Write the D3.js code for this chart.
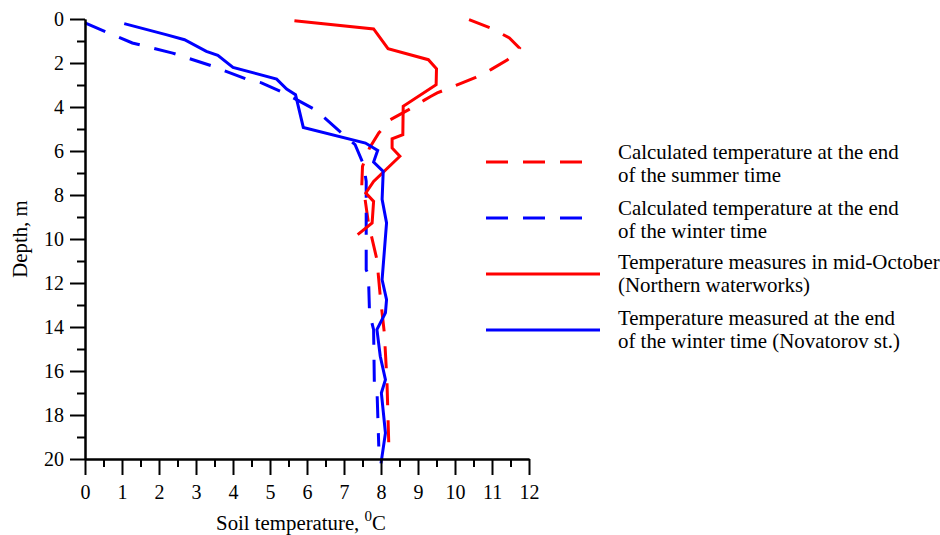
<!DOCTYPE html>
<html>
<head>
<meta charset="utf-8">
<script src="https://cdn.jsdelivr.net/npm/d3@7"></script>
<style>
  html, body { margin: 0; padding: 0; background: #fff; }
  svg { display: block; }
  text { font-family: "Liberation Serif", "Times New Roman", serif; fill: #000; }
</style>
</head>
<body>
<svg id="chart" width="940" height="535"></svg>
<script>
// ---- Data (temperature °C, depth m) ----
const calcSummerTemp  = [10.38, 10.97, 11.47, 11.74, 11.42, 10.97, 10.56, 10.06, 9.52, 9.34, 9.16, 8.75, 8.25, 7.94, 7.69, 7.5, 7.48, 7.57, 7.66, 7.89, 7.98, 8.09, 8.16, 8.21];
const calcSummerDepth = [0.03, 0.41, 0.86, 1.32, 1.85, 2.3, 2.65, 2.99, 3.36, 3.52, 3.7, 4.12, 4.58, 5.18, 5.86, 6.7, 7.6, 8.2, 9.27, 10.94, 12.6, 14.27, 16.4, 19.3];

const calcWinterTemp  = [0, 1.28, 2.37, 3.46, 4.36, 4.77, 5.36, 6.22, 6.99, 7.3, 7.53, 7.6, 7.6, 7.66, 7.69, 7.8, 7.82, 7.89, 7.94];
const calcWinterDepth = [0.18, 1.09, 1.55, 2.15, 2.73, 2.9, 3.34, 4.12, 5.26, 5.71, 6.62, 7.38, 11.4, 11.62, 13.36, 14.12, 16.55, 16.77, 19.43];

const measOctTemp  = [5.66, 7.8, 8.19, 9.28, 9.5, 9.49, 8.6, 8.59, 8.3, 8.3, 8.51, 7.8, 7.59, 7.8, 7.76, 7.37];
const measOctDepth = [0.08, 0.45, 1.35, 1.85, 2.26, 2.99, 3.97, 5.26, 5.45, 5.86, 6.24, 7.38, 7.91, 8.29, 9.27, 9.8];

const measWinterTemp  = [1.06, 2.19, 2.69, 3.28, 3.59, 4.0, 5.18, 5.45, 5.69, 5.9, 7.58, 7.91, 7.8, 8.06, 8.03, 8.15, 8.03, 8.15, 8.12, 7.89, 7.98, 8.12, 8.01, 8.12, 8.0];
const measWinterDepth = [0.21, 0.71, 0.94, 1.47, 1.65, 2.2, 2.73, 3.18, 3.44, 4.93, 5.64, 5.97, 6.5, 6.93, 8.2, 9.27, 11.85, 12.76, 13.36, 14.12, 15.33, 16.39, 17.0, 18.82, 20.2];

const xMajorTicks = [0,1,2,3,4,5,6,7,8,9,10,11,12];
const xMinorTicks = [0.5,1.5,2.5,3.5,4.5,5.5,6.5,7.5,8.5,9.5,10.5,11.5];
const yMajorTicks = [0,2,4,6,8,10,12,14,16,18,20];
const yMinorTicks = [1,3,5,7,9,11,13,15,17,19];

const legendLabels = [
  ["Calculated temperature at the end", "of the summer time"],
  ["Calculated temperature at the end", "of the winter time"],
  ["Temperature measures in mid-October", "(Northern waterworks)"],
  ["Temperature measured at the end", "of the winter time (Novatorov st.)"]
];

// ---- Drawing ----
const svg = d3.select("#chart");
const x = d3.scaleLinear().domain([0, 12]).range([85, 529]);
const y = d3.scaleLinear().domain([0, 20]).range([19, 459]);

const series = [
  { t: calcSummerTemp, d: calcSummerDepth, color: "#ff0000", dash: "22,15" },
  { t: calcWinterTemp, d: calcWinterDepth, color: "#0000ff", dash: "22,15" },
  { t: measOctTemp, d: measOctDepth, color: "#ff0000", dash: null },
  { t: measWinterTemp, d: measWinterDepth, color: "#0000ff", dash: null }
];

const line = d3.line().x(p => x(p[0])).y(p => y(p[1]));

series.forEach(s => {
  const pts = s.t.map((v, i) => [v, s.d[i]]);
  svg.append("path")
    .attr("d", line(pts))
    .attr("fill", "none")
    .attr("stroke", s.color)
    .attr("stroke-width", 3)
    .attr("stroke-linejoin", "miter")
    .attr("stroke-dasharray", s.dash);
});

// Axes
function styleAxis(g) {
  g.attr("font-family", null);
  g.selectAll("path.domain").attr("stroke", "#000").attr("stroke-width", 2);
  g.selectAll(".tick line").attr("stroke", "#000").attr("stroke-width", 2);
  g.selectAll(".tick text").style("font-size", "20px").style("font-family", "'Liberation Serif', serif").attr("fill", "#000");
}

const xAxisY = y(20);
svg.append("g").attr("transform", `translate(0,${xAxisY})`)
  .call(d3.axisBottom(x).tickValues(xMinorTicks).tickSize(8).tickFormat("").tickSizeOuter(0))
  .call(styleAxis);
svg.append("g").attr("transform", `translate(0,${xAxisY})`)
  .call(d3.axisBottom(x).tickValues(xMajorTicks).tickSize(16).tickPadding(10).tickFormat(d3.format("d")).tickSizeOuter(0))
  .call(styleAxis);

const yAxisX = x(0);
svg.append("g").attr("transform", `translate(${yAxisX},0)`)
  .call(d3.axisLeft(y).tickValues(yMinorTicks).tickSize(8).tickFormat("").tickSizeOuter(0))
  .call(styleAxis);
svg.append("g").attr("transform", `translate(${yAxisX},0)`)
  .call(d3.axisLeft(y).tickValues(yMajorTicks).tickSize(15).tickPadding(6).tickFormat(d3.format("d")).tickSizeOuter(0))
  .call(styleAxis);

// Axis titles
const xt = svg.append("text")
  .attr("x", 301).attr("y", 530)
  .attr("text-anchor", "middle")
  .style("font-size", "20.8px");
xt.append("tspan").text("Soil temperature, ");
xt.append("tspan").attr("dy", -9).style("font-size", "15px").text("0");
xt.append("tspan").attr("dy", 9).text("C");

svg.append("text")
  .attr("transform", `translate(27,${y(10)}) rotate(-90)`)
  .attr("text-anchor", "middle")
  .style("font-size", "20.8px")
  .text("Depth, m");

// Legend
const legY = [162, 218, 274, 330];
const legBase = [159, 215, 269, 325];
series.forEach((s, i) => {
  svg.append("line")
    .attr("x1", 486).attr("x2", s.dash ? 582 : 600)
    .attr("y1", legY[i]).attr("y2", legY[i])
    .attr("stroke", s.color).attr("stroke-width", 3)
    .attr("stroke-dasharray", s.dash);
  const tx = svg.append("text").attr("x", 618).attr("y", legBase[i]).style("font-size", "20.9px");
  legendLabels[i].forEach((l, j) => {
    tx.append("tspan").attr("x", 618).attr("dy", j === 0 ? 0 : 22.5).text(l);
  });
});
</script>
</body>
</html>
